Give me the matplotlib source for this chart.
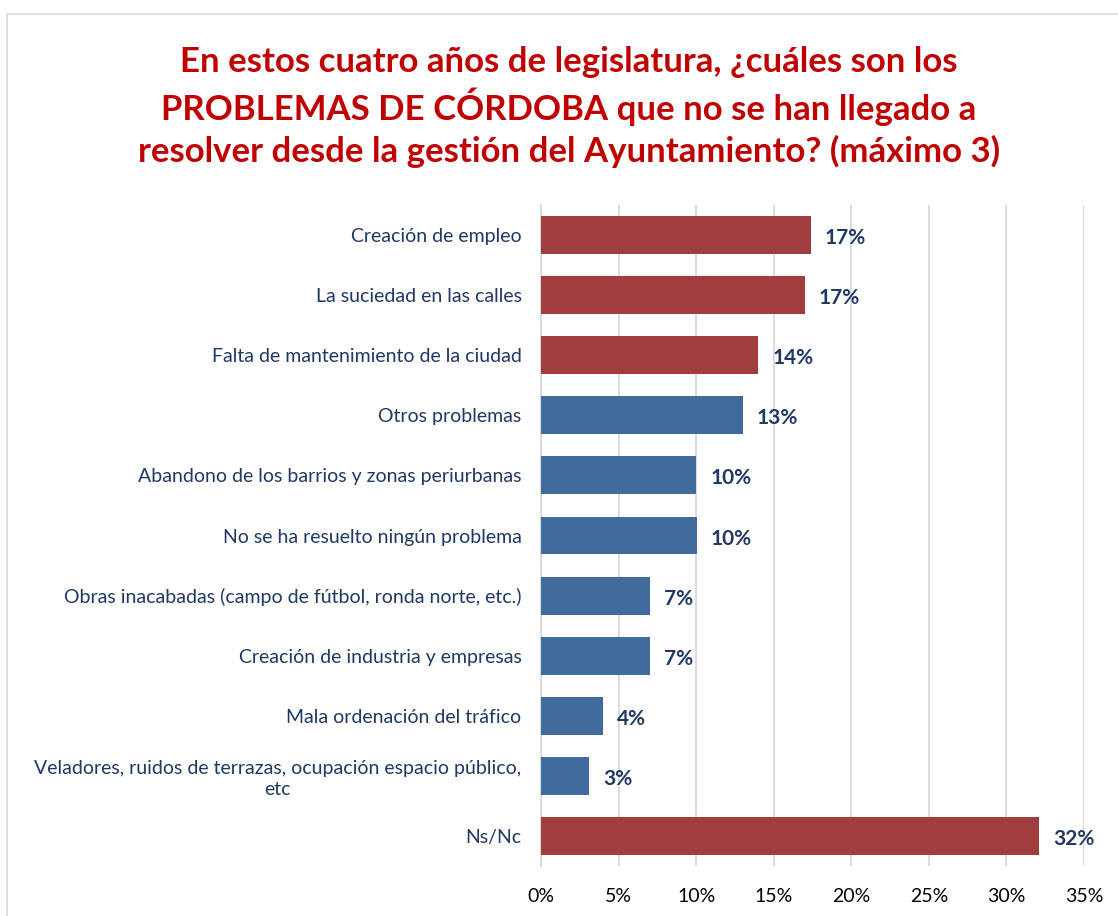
import matplotlib.pyplot as plt
from matplotlib.patches import Rectangle

# data
categories = [
    'Creación de empleo',
    'La suciedad en las calles',
    'Falta de mantenimiento de la ciudad',
    'Otros problemas',
    'Abandono de los barrios y zonas periurbanas',
    'No se ha resuelto ningún problema',
    'Obras inacabadas (campo de fútbol, ronda norte, etc.)',
    'Creación de industria y empresas',
    'Mala ordenación del tráfico',
    'Veladores, ruidos de terrazas, ocupación espacio público,\netc',
    'Ns/Nc',
]
values = [17.4, 17.0, 14.0, 13.0, 10.0, 10.05, 7.0, 7.0, 4.0, 3.1, 32.1]
labels = ['17%', '17%', '14%', '13%', '10%', '10%', '7%', '7%', '4%', '3%', '32%']
highlight = [True, True, True, False, False, False, False, False, False, False, True]

plt.rcParams['font.family'] = ['Lato', 'DejaVu Sans']

red = '#9F3E3C'
blue = '#406B9C'
navy = '#1F3864'

fig = plt.figure(figsize=(11.18, 9.16), dpi=100)

# light frame round the chart
fig.patches.append(Rectangle((7 / 1118, -0.01), 1.1, 1 - 14 / 916 + 0.01,
                             transform=fig.transFigure, fill=False,
                             edgecolor='#D9D9D9', linewidth=1.2))

ax = fig.add_axes([541 / 1118, 1 - 866 / 916, (1084 - 541) / 1118, (866 - 205) / 916])

colors = [red if h else blue for h in highlight]
ypos = list(range(len(categories)))
ax.barh(ypos, values, height=0.63, color=colors, zorder=3)

for y, v, lab in zip(ypos, values, labels):
    ax.text(v + 0.9, y + 0.05, lab, va='center', ha='left', fontsize=15,
            fontweight='bold', color=navy)

ax.set_xlim(0, 35)
ax.set_ylim(len(categories) - 0.5, -0.5)
ax.set_xticks(range(0, 36, 5))
ax.set_xticklabels([f'{t}%' for t in range(0, 36, 5)], fontsize=14, color='#000000')
ax.set_yticks(ypos)
ax.set_yticklabels(categories, fontsize=14, color=navy, linespacing=1.25)
ax.tick_params(axis='both', length=0)
ax.tick_params(axis='y', pad=14)
ax.tick_params(axis='x', pad=16)
ax.grid(axis='x', color='#D9D9D9', linewidth=1.3, zorder=0)
for s in ['top', 'right', 'bottom']:
    ax.spines[s].set_visible(False)
ax.spines['left'].set_color('#D9D9D9')
ax.spines['left'].set_linewidth(1.3)
for t in ax.get_yticklabels():
    t.set_multialignment('center')

fig.text(569 / 1118, 1 - 107 / 916,
         'En estos cuatro años de legislatura, ¿cuáles son los\n'
         'PROBLEMAS DE CÓRDOBA que no se han llegado a\n'
         'resolver desde la gestión del Ayuntamiento? (máximo 3)',
         ha='center', va='center', fontsize=25, fontweight='bold',
         color='#C00000', linespacing=1.3)

fig.savefig('out.png', dpi=100)
